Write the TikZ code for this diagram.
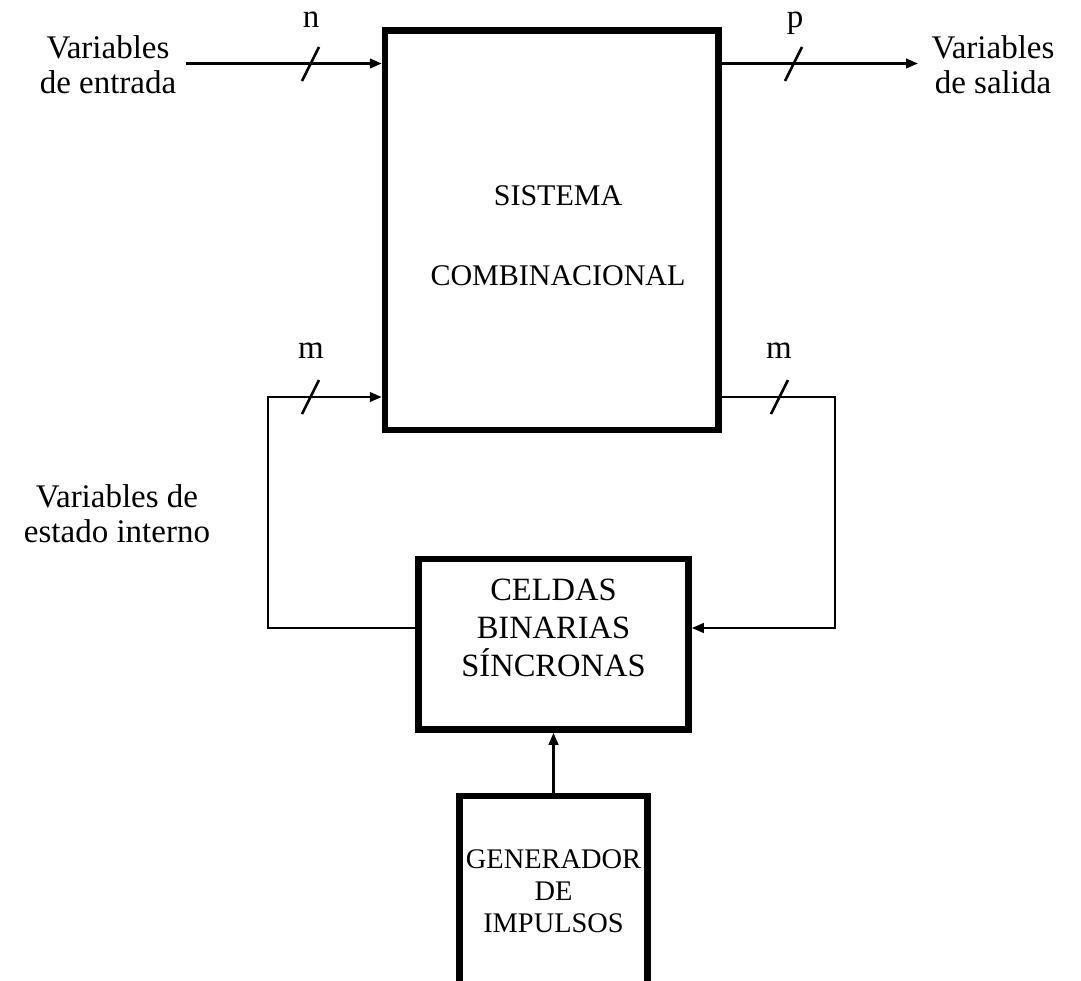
\documentclass[tikz,border=0pt]{standalone}
\usepackage{fontspec}
\setmainfont{Liberation Serif}
\usetikzlibrary{arrows.meta}
\begin{document}
\begin{tikzpicture}[x=1pt,y=-1pt,
  block/.style={draw, line width=6.5pt, rectangle, inner sep=0pt},
  wire/.style={line width=2.5pt},
  arr/.style={wire, -{Triangle[length=12pt,width=9.5pt]}},
  lbl/.style={font=\fontsize{33}{35}\selectfont, align=center, inner sep=0pt},
  boxtxt/.style={font=\fontsize{30}{34}\selectfont, align=center, inner sep=0pt},
  celltxt/.style={font=\fontsize{32.5}{38}\selectfont, align=center, inner sep=0pt},
  gentxt/.style={font=\fontsize{28.4}{32}\selectfont, align=center, inner sep=0pt}]

\useasboundingbox (0,0) rectangle (1081,980);
\clip (0,0) rectangle (1081,980);

% blocks
\node[block, minimum width=333.5pt, minimum height=399.5pt] (comb) at (551.75,230.25) {};
\node[block, minimum width=270pt, minimum height=170.5pt] (cells) at (553.5,644.25) {};
\node[block, minimum width=188pt, minimum height=264pt] (gen) at (553.5,928) {};

% block texts
\node[boxtxt] (tcomb) at (558,236) {SISTEMA\\[46pt]COMBINACIONAL};
\node[celltxt] (tcells) at (553.5,628) {CELDAS\\BINARIAS\\SÍNCRONAS};
\node[gentxt] (tgen) at (553.5,891) {GENERADOR\\DE\\IMPULSOS};

% side labels
\node[lbl] (vin) at (108,65) {Variables\\de entrada};
\node[lbl] (vout) at (993,65) {Variables\\de salida};
\node[lbl] (vstate) at (117,514) {Variables de\\estado interno};

% input and output buses
\coordinate (inStart) at (186,63.5);
\coordinate (outEnd) at (918,63.5);
\draw[arr] (inStart) -- (inStart -| comb.west);
\draw[arr] (comb.east |- outEnd) -- (outEnd);

% state feedback loops
\coordinate (fbLlow) at (268,628);
\coordinate (fbLhigh) at (268,397);
\coordinate (fbRhigh) at (835,397);
\coordinate (fbRlow) at (835,628);
\draw[arr] (fbLlow -| cells.west) -- (fbLlow) -- (fbLhigh) -- (fbLhigh -| comb.west);
\draw[arr] (fbRhigh -| comb.east) -- (fbRhigh) -- (fbRlow) -- (fbRlow -| cells.east);

% clock
\draw[arr] (gen.north) -- (cells.south);

% bus width marks
\coordinate (sn) at (310.5,64);
\coordinate (sp) at (793.5,64);
\coordinate (sm1) at (310.5,397);
\coordinate (sm2) at (779.5,397);
\foreach \s in {sn,sp,sm1,sm2}
  \draw[wire] ([shift={(-8.5,17)}]\s) -- ([shift={(8.5,-17)}]\s);

\node[lbl, anchor=base] (ln) at (311,27) {n};
\node[lbl, anchor=base] (lp) at (795,27) {p};
\node[lbl, anchor=base] (lm1) at (311,358) {m};
\node[lbl, anchor=base] (lm2) at (779,358) {m};
\end{tikzpicture}
\end{document}
